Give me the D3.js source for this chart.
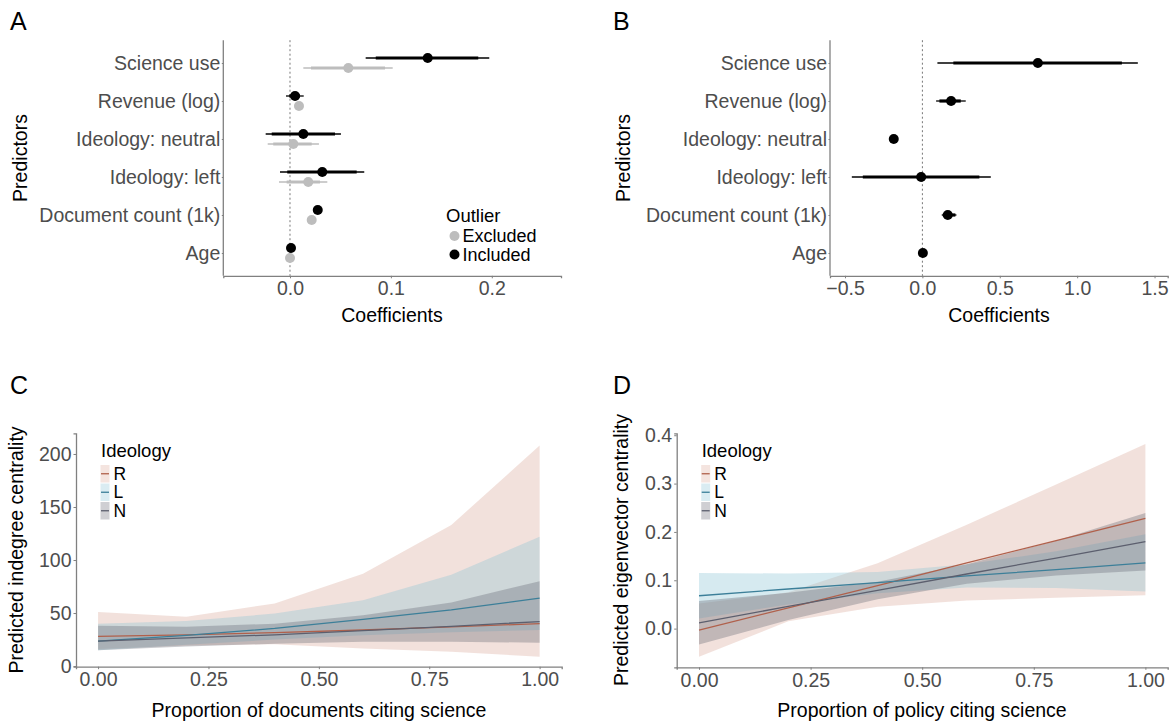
<!DOCTYPE html>
<html><head><meta charset="utf-8">
<script src="https://cdn.jsdelivr.net/npm/d3@7"></script>
<style>body{margin:0;background:#fff}svg{display:block}text{font-family:"Liberation Sans",Arial,sans-serif}</style>
</head><body><svg id="c" width="1173" height="725"></svg>
<script>
// ---------- Data ----------
const predictors = ["Science use","Revenue (log)","Ideology: neutral","Ideology: left","Document count (1k)","Age"];
// Panel A (outlier included / excluded): estimate, inner (thick) and outer (thin) intervals
const aIncEst  = [0.1365, 0.0050, 0.0132, 0.0320, 0.0275, 0.0010];
const aIncLo   = [0.0850,-0.0007,-0.0181,-0.0027, 0.0262, 0.0007];
const aIncHi   = [0.1866, 0.0099, 0.0446, 0.0661, 0.0288, 0.0013];
const aIncLo95 = [0.0750,-0.0040,-0.0241,-0.0099, 0.0255, 0.0005];
const aIncHi95 = [0.1975, 0.0136, 0.0505, 0.0736, 0.0295, 0.0015];
const aExcEst  = [0.0578, 0.0089, 0.0033, 0.0181, 0.0215, 0.0000];
const aExcLo   = [0.0208, 0.0060,-0.0166,-0.0033, 0.0200,-0.0003];
const aExcHi   = [0.0942, 0.0118, 0.0215, 0.0297, 0.0230, 0.0003];
const aExcLo95 = [0.0132, 0.0050,-0.0221,-0.0109, 0.0195,-0.0005];
const aExcHi95 = [0.1018, 0.0128, 0.0287, 0.0370, 0.0235, 0.0005];
const aTicks = [0, 0.1, 0.2];
// Panel B
const bEst  = [0.746, 0.1855,-0.185,-0.008, 0.164, 0.003];
const bLo   = [0.200, 0.110, -0.192,-0.385, 0.132,-0.003];
const bHi   = [1.289, 0.248, -0.178, 0.368, 0.213, 0.009];
const bLo95 = [0.097, 0.0886,-0.195,-0.456, 0.125,-0.005];
const bHi95 = [1.392, 0.280, -0.175, 0.442, 0.220, 0.011];
const bTicks = [-0.5, 0, 0.5, 1.0, 1.5];
// Panel C: predicted indegree centrality
const ideologies = ["R","L","N"];
const cX   = [0, 0.2, 0.4, 0.6, 0.8, 1.0];
const cR   = [28, 29.5, 31.5, 34, 37, 40];
const cRlo = [16, 19.5, 20.5, 16.5, 13.5, 8.8];
const cRhi = [51, 46.5, 59, 87, 133, 208];
const cL   = [23.5, 29, 35.5, 44, 53, 64];
const cLlo = [15, 20, 25, 29, 32, 34];
const cLhi = [40, 42.5, 49.5, 62, 86, 122];
const cN   = [23.5, 26.5, 29.5, 33.5, 37.5, 42];
const cNlo = [15, 18.5, 21, 23, 23, 22];
const cNhi = [38, 37, 40, 48, 60, 80];
const cYTicks = [0, 50, 100, 150, 200];
// Panel D: predicted eigenvector centrality
const dX   = [0, 0.2, 0.4, 0.6, 0.8, 1.0];
const dR   = [-0.003, 0.043, 0.089, 0.136, 0.182, 0.228];
const dRlo = [-0.058, 0.015, 0.045, 0.058, 0.064, 0.069];
const dRhi = [0.052, 0.075, 0.135, 0.215, 0.298, 0.382];
const dL   = [0.068, 0.082, 0.095, 0.109, 0.122, 0.136];
const dLlo = [0.021, 0.050, 0.073, 0.085, 0.084, 0.077];
const dLhi = [0.115, 0.114, 0.117, 0.133, 0.160, 0.195];
const dN   = [0.012, 0.046, 0.079, 0.113, 0.146, 0.180];
const dNlo = [-0.033, 0.018, 0.061, 0.093, 0.110, 0.120];
const dNhi = [0.057, 0.074, 0.097, 0.133, 0.182, 0.239];
const dYTicks = [0, 0.1, 0.2, 0.3, 0.4];
const propTicks = [0, 0.25, 0.5, 0.75, 1.0];

// ---------- Styles ----------
const TICK_COL = "#4d4d4d", AXIS_COL = "#808080", TICK_FS = 19.5, TITLE_FS = 19.5, LEG_FS = 17.5;
const lineCol = {R:"#b0604b", L:"#3c7f99", N:"#5c5f6e"};
const fillCol = {R:"#d9a395", L:"#8ec5d6", N:"#6a6c78"};
const fillOp  = {R:0.33, L:0.36, N:0.36};

const svg = d3.select("#c");
svg.append("rect").attr("width",1173).attr("height",725).attr("fill","#fff");

function styleAxis(g){
  g.select(".domain").attr("stroke",AXIS_COL).attr("stroke-width",1.3);
  g.selectAll(".tick line").attr("stroke",AXIS_COL).attr("stroke-width",1);
  g.selectAll(".tick text").attr("fill",TICK_COL).attr("font-size",TICK_FS)
    .attr("font-family","Liberation Sans, Arial, sans-serif");
}
function letter(t,x,y){
  svg.append("text").attr("x",x).attr("y",y).attr("font-size",25)
    .attr("font-family","Open Sans, Liberation Sans, sans-serif").attr("fill","#000").text(t);
}
function yTitle(t,x,y){
  svg.append("text").attr("transform",`translate(${x},${y}) rotate(-90)`)
    .attr("text-anchor","middle").attr("font-size",TITLE_FS).attr("fill","#000").text(t);
}
function xTitle(t,x,y){
  svg.append("text").attr("x",x).attr("y",y).attr("text-anchor","middle")
    .attr("font-size",TITLE_FS).attr("fill","#000").text(t);
}

// ---------- Forest panels ----------
function forest(opt){
  const x = d3.scaleLinear().domain(opt.xDomain).range(opt.xRange);
  const y = d3.scalePoint().domain(predictors).range([40.2, 275.8]).padding(0.6);
  const g = svg.append("g");
  g.append("line").attr("x1",x(0)).attr("x2",x(0)).attr("y1",40.2).attr("y2",275.8)
    .attr("stroke","#777").attr("stroke-width",1).attr("stroke-dasharray","2,2.5");
  opt.series.forEach(s=>{
    predictors.forEach((p,i)=>{
      const yy = y(p)+s.dy;
      g.append("line").attr("x1",x(s.lo95[i])).attr("x2",x(s.hi95[i])).attr("y1",yy).attr("y2",yy)
        .attr("stroke",s.color).attr("stroke-width",1.3);
      g.append("line").attr("x1",x(s.lo[i])).attr("x2",x(s.hi[i])).attr("y1",yy).attr("y2",yy)
        .attr("stroke",s.color).attr("stroke-width",3.2);
      g.append("circle").attr("cx",x(s.est[i])).attr("cy",yy).attr("r",5).attr("fill",s.color);
    });
  });
  const ga = g.append("g").attr("transform",`translate(0,275.8)`)
    .call(d3.axisBottom(x).tickValues(opt.ticks).tickFormat(d3.format(".1f")).tickSizeOuter(0).tickSize(2.5).tickPadding(3));
  styleAxis(ga);
  const gy = g.append("g").attr("transform",`translate(${opt.xRange[0]},0)`)
    .call(d3.axisLeft(y).tickSizeOuter(0).tickSize(1.5).tickPadding(1.5));
  styleAxis(gy);
  gy.select(".domain").attr("d",`M0,40.2V275.8`);
}

forest({xDomain:[-0.0661,0.2686], xRange:[223.3,561], ticks:aTicks,
  series:[
    {est:aExcEst, lo:aExcLo, hi:aExcHi, lo95:aExcLo95, hi95:aExcHi95, color:"#bdbdbd", dy:5},
    {est:aIncEst, lo:aIncLo, hi:aIncHi, lo95:aIncLo95, hi95:aIncHi95, color:"#000", dy:-5}
  ]});
forest({xDomain:[-0.597,1.585], xRange:[830,1167.7], ticks:bTicks,
  series:[{est:bEst, lo:bLo, hi:bHi, lo95:bLo95, hi95:bHi95, color:"#000", dy:0}]});

// legend A
svg.append("text").attr("x",446).attr("y",222).attr("font-size",LEG_FS+1).attr("fill","#000").text("Outlier");
[["Excluded","#bdbdbd",236],["Included","#000",254.5]].forEach(([t,c,yy])=>{
  svg.append("circle").attr("cx",454.5).attr("cy",yy).attr("r",5).attr("fill",c);
  svg.append("text").attr("x",462.5).attr("y",yy+6.3).attr("font-size",LEG_FS+0.5).attr("fill","#000").text(t);
});

letter("A",10,30); letter("B",613,30);
yTitle("Predictors",27,158); yTitle("Predictors",630,158);
xTitle("Coefficients",392,322); xTitle("Coefficients",999,322);

// ---------- Marginal effect panels ----------
function effects(opt){
  const x = d3.scaleLinear().domain([-0.05,1.05]).range(opt.xRange);
  const y = d3.scaleLinear().domain(opt.yDomain).range([opt.bottom, 433.3]);
  const g = svg.append("g");
  const area = d3.area().x(d=>x(d.x)).y0(d=>y(d.lo)).y1(d=>y(d.hi));
  const line = d3.line().x(d=>x(d.x)).y(d=>y(d.v));
  opt.groups.forEach(s=>{
    const pts = opt.xs.map((xv,i)=>({x:xv, lo:s.lo[i], hi:s.hi[i]}));
    g.append("path").attr("d",area(pts)).attr("fill",fillCol[s.k]).attr("fill-opacity",fillOp[s.k]);
  });
  opt.groups.forEach(s=>{
    const pts = opt.xs.map((xv,i)=>({x:xv, v:s.v[i]}));
    g.append("path").attr("d",line(pts)).attr("fill","none").attr("stroke",lineCol[s.k]).attr("stroke-width",1.3);
  });
  const gx = g.append("g").attr("transform",`translate(0,${opt.bottom})`)
    .call(d3.axisBottom(x).tickValues(propTicks).tickFormat(d3.format(".2f")).tickSizeOuter(0).tickSize(2.5).tickPadding(3));
  styleAxis(gx);
  const gy = g.append("g").attr("transform",`translate(${opt.xRange[0]},0)`)
    .call(d3.axisLeft(y).tickValues(opt.yTicks).tickFormat(opt.yFmt).tickSizeOuter(0).tickSize(2.5).tickPadding(2));
  styleAxis(gy);
  // legend
  const lx = opt.xRange[0];
  svg.append("text").attr("x",lx+25).attr("y",457).attr("font-size",LEG_FS+1).attr("fill","#000").text("Ideology");
  ideologies.forEach((k,i)=>{
    const y0 = 465 + i*18.5;
    svg.append("rect").attr("x",lx+24.5).attr("y",y0).attr("width",9).attr("height",17.5)
      .attr("fill",fillCol[k]).attr("fill-opacity",fillOp[k]*0.9);
    svg.append("line").attr("x1",lx+25).attr("x2",lx+33).attr("y1",y0+8.75).attr("y2",y0+8.75)
      .attr("stroke",lineCol[k]).attr("stroke-width",1.3);
    svg.append("text").attr("x",lx+37.5).attr("y",y0+14.5).attr("font-size",LEG_FS).attr("fill","#000").text(k);
  });
}

effects({xRange:[76,561.7], bottom:666.7, yDomain:[-0.6,219.5], yTicks:cYTicks, yFmt:d3.format("d"), xs:cX,
  groups:[{k:"R",v:cR,lo:cRlo,hi:cRhi},{k:"L",v:cL,lo:cLlo,hi:cLhi},{k:"N",v:cN,lo:cNlo,hi:cNhi}]});
effects({xRange:[676.7,1167.7], bottom:667.3, yDomain:[-0.080,0.404], yTicks:dYTicks, yFmt:d3.format(".1f"), xs:dX,
  groups:[{k:"R",v:dR,lo:dRlo,hi:dRhi},{k:"L",v:dL,lo:dLlo,hi:dLhi},{k:"N",v:dN,lo:dNlo,hi:dNhi}]});

letter("C",10,394); letter("D",613,394);
yTitle("Predicted indegree centrality",23,550); yTitle("Predicted eigenvector centrality",628,550);
xTitle("Proportion of documents citing science",319,716.5); xTitle("Proportion of policy citing science",922,716.5);
</script></body></html>
